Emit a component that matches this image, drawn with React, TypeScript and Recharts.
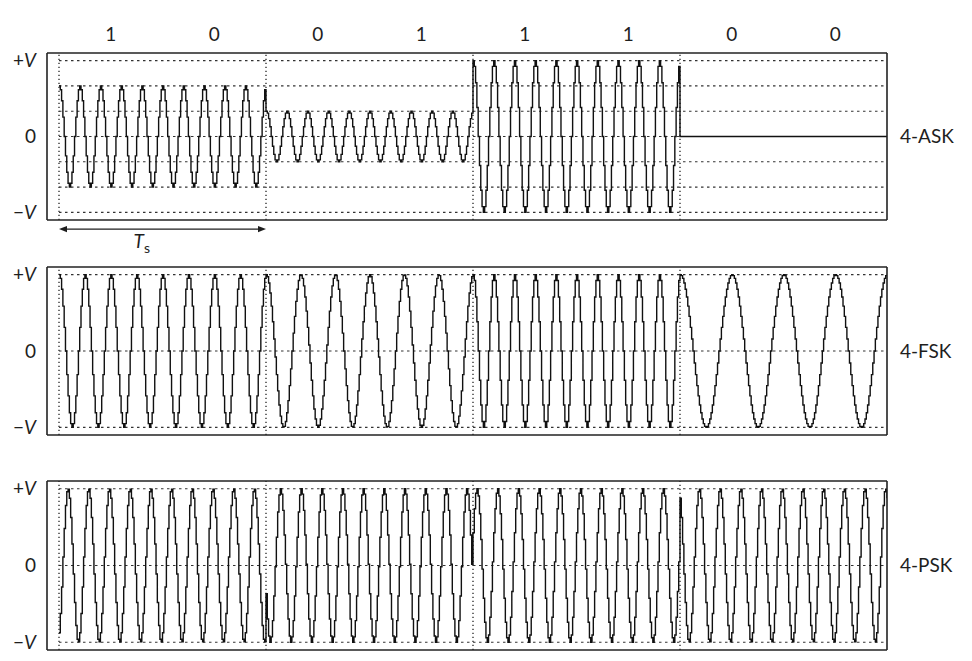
import React from 'react';
import { LineChart, Line, XAxis, YAxis, ReferenceLine } from 'recharts';

// ---- data ----
const bits = ['1', '0', '0', '1', '1', '1', '0', '0'];
const bitPositions = [0.25, 0.75, 1.25, 1.75, 2.25, 2.75, 3.25, 3.75];
const symbolTicks = [0, 1, 2, 3, 4];
const symbolBoundaries = [0, 1, 2, 3];
const askAmplitudes = [2 / 3, 1 / 3, 1, 0];
const askCarrierCycles = [10, 10, 10, 10];
const fskCycles = [8, 6, 10, 4];
const pskCarrierCycles = [10, 10, 10, 10];
const pskPeakOffsetCycles = [0.42, 0.69, 0.18, 0.92];
const askLevels = [-1, -2 / 3, -1 / 3, 0, 1 / 3, 2 / 3, 1];
const fskLevels = [-1, 0, 1];
const pskLevels = [-1, 0, 1];
const voltageLabels = [-1, 0, 1];
const panelNames = ['4-ASK', '4-FSK', '4-PSK'];
const samplesPerSymbol = 160;
const tsArrowLevel = -1.22;

const FONT = "Lato, 'Open Sans', sans-serif";
const INK = '#1e1e1e';

type Pt = { t: number; v: number };

function sampleWave(fn: (k: number, tau: number) => number): Pt[] {
  const pts: Pt[] = [];
  const total = symbolBoundaries.length * samplesPerSymbol;
  for (let i = 0; i <= total; i++) {
    const t = i / samplesPerSymbol;
    const k = Math.min(symbolBoundaries.length - 1, Math.floor(t));
    const tau = t - k;
    pts.push({ t, v: fn(k, tau) });
  }
  return pts;
}

const askData = sampleWave((k, tau) => askAmplitudes[k] * Math.cos(2 * Math.PI * askCarrierCycles[k] * tau));
const fskData = sampleWave((k, tau) => Math.cos(2 * Math.PI * fskCycles[k] * tau));
const pskData = sampleWave((k, tau) =>
  Math.cos(2 * Math.PI * (pskCarrierCycles[k] * tau - pskPeakOffsetCycles[k]))
);

const X_DOMAIN: [number, number] = [-0.058, 4];
const Y_DOMAIN: [number, number] = [-1.1, 1.1];

const VoltTick = (props: any) => {
  const { x, y, payload } = props;
  const v = payload?.value;
  let content: React.ReactNode = '0';
  if (v > 0.5) content = (<><tspan>+</tspan><tspan fontStyle="italic">V</tspan></>);
  else if (v < -0.5) content = (<><tspan>−</tspan><tspan fontStyle="italic">V</tspan></>);
  return (
    <text x={x} y={y} dy="0.35em" textAnchor="end" fontFamily={FONT} fontSize={19} fill={INK}>
      {content}
    </text>
  );
};

const TsArrow = (props: any) => {
  const { x1, y1, x2, y2 } = props;
  if (x1 == null || x2 == null) return null;
  const a = 8;
  const h = 3.2;
  const lx = x1 + (x2 - x1) * 0.4;
  return (
    <g>
      <line x1={x1 + a} y1={y1} x2={x2 - a} y2={y2} stroke={INK} strokeWidth={1.4} />
      <polygon points={`${x1},${y1} ${x1 + a},${y1 - h} ${x1 + a},${y1 + h}`} fill={INK} />
      <polygon points={`${x2},${y2} ${x2 - a},${y2 - h} ${x2 - a},${y2 + h}`} fill={INK} />
      <text x={lx} y={y1 + 19} textAnchor="middle" fontFamily={FONT} fontSize={19} fill={INK}>
        <tspan fontStyle="italic">T</tspan>
        <tspan fontSize={14} dy={5}>s</tspan>
      </text>
    </g>
  );
};

type PanelProps = {
  data: Pt[];
  levels: number[];
  name: string;
  top: number;
  height: number;
  plotTop: number;
  plotH: number;
  showBits?: boolean;
  showTs?: boolean;
};

const frameStroke = { stroke: '#222', strokeWidth: 1.6 };
const tickStroke = { stroke: '#222', strokeWidth: 1.5 };

function Panel({ data, levels, name, top, height, plotTop, plotH, showBits, showTs }: PanelProps) {
  const bitsH = showBits ? 30 : 0;
  const marginTop = plotTop - top - bitsH;
  const marginBottom = height - (plotTop - top) - plotH;
  return (
    <div style={{ position: 'absolute', left: 0, top, width: 972, height }}>
      <LineChart width={972} height={height} data={data} margin={{ top: marginTop, right: 0, bottom: marginBottom, left: 0 }}>
        <XAxis xAxisId="b" dataKey="t" type="number" domain={X_DOMAIN} allowDataOverflow ticks={symbolTicks}
          orientation="bottom" mirror tick={false} tickSize={7} axisLine={frameStroke} tickLine={tickStroke} interval={0} />
        <XAxis xAxisId="tp" dataKey="t" type="number" domain={X_DOMAIN} allowDataOverflow ticks={symbolTicks}
          orientation="top" mirror tick={false} tickSize={7} axisLine={frameStroke} tickLine={tickStroke} interval={0} />
        {showBits && (
          <XAxis xAxisId="bits" dataKey="t" type="number" domain={X_DOMAIN} allowDataOverflow ticks={bitPositions}
            orientation="top" height={30} tickLine={false} axisLine={false} tickSize={0} tickMargin={12} interval={0}
            tickFormatter={(_v: any, i: number) => bits[i]}
            tick={{ fill: INK, fontSize: 19, fontFamily: FONT }} />
        )}
        <YAxis yAxisId="v" type="number" domain={Y_DOMAIN} allowDataOverflow ticks={voltageLabels}
          orientation="left" width={47} tickLine={false} axisLine={false} tickSize={0} tickMargin={11} interval={0}
          tick={<VoltTick />} />
        <YAxis yAxisId="tl" type="number" domain={Y_DOMAIN} allowDataOverflow ticks={levels}
          orientation="left" mirror tick={false} tickSize={11} axisLine={frameStroke} tickLine={tickStroke} interval={0} />
        <YAxis yAxisId="tr" type="number" domain={Y_DOMAIN} allowDataOverflow ticks={levels}
          orientation="right" mirror tick={false} tickSize={11} axisLine={frameStroke} tickLine={tickStroke} interval={0} />
        <YAxis yAxisId="name" type="number" domain={Y_DOMAIN} allowDataOverflow ticks={[0]}
          orientation="right" width={85} tickLine={false} axisLine={false} tickSize={0} tickMargin={13} interval={0}
          tickFormatter={() => name}
          tick={{ fill: INK, fontSize: 19, fontFamily: FONT, textAnchor: 'start' }} />
        {levels.map((lv) => (
          <ReferenceLine key={'h' + lv} xAxisId="b" yAxisId="tl"
            segment={[{ x: 0, y: lv }, { x: 4, y: lv }]}
            stroke="#333" strokeWidth={1.1} strokeDasharray="2.5 3.5" />
        ))}
        {symbolBoundaries.map((b) => (
          <ReferenceLine key={'v' + b} xAxisId="b" yAxisId="tl" x={b}
            stroke="#333" strokeWidth={1.4} strokeDasharray="1.3 2.7" />
        ))}
        {showTs && (
          <ReferenceLine xAxisId="b" yAxisId="tl" ifOverflow="visible"
            segment={[{ x: 0, y: tsArrowLevel }, { x: 1, y: tsArrowLevel }]}
            shape={(p: any) => <TsArrow {...p} />} />
        )}
        <Line xAxisId="b" yAxisId="tl" dataKey="v" type="stepAfter" dot={false} activeDot={false}
          stroke="#111" strokeWidth={1.4} isAnimationActive={false} />
      </LineChart>
    </div>
  );
}

export default function App() {
  return (
    <div style={{ position: 'absolute', left: 0, top: 0, width: 972, height: 661, background: '#fff' }}>
      <Panel data={askData} levels={askLevels} name={panelNames[0]} top={0} height={262} plotTop={53} plotH={167} showBits showTs />
      <Panel data={fskData} levels={fskLevels} name={panelNames[1]} top={240} height={210} plotTop={267} plotH={168} />
      <Panel data={pskData} levels={pskLevels} name={panelNames[2]} top={455} height={206} plotTop={481} plotH={169} />
    </div>
  );
}
